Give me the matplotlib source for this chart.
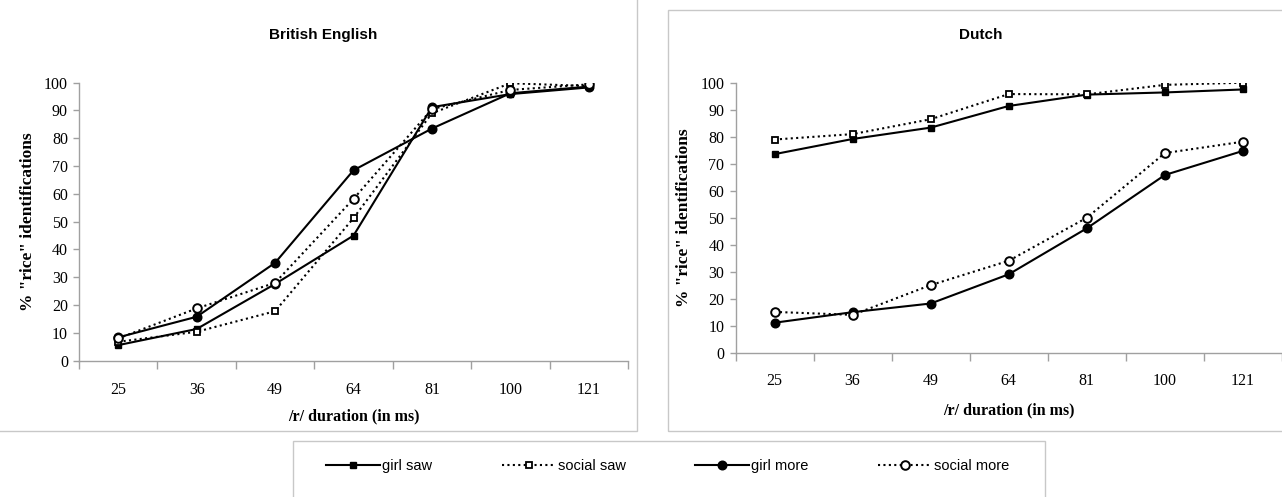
import matplotlib
matplotlib.use("Agg")
import matplotlib.pyplot as plt
from matplotlib.patches import Rectangle
from matplotlib.lines import Line2D

# /r/ durations (ms) on the category axis
duracoes = ["25", "36", "49", "64", "81", "100", "121"]

# British English, % "rice" identifications
be_girl_saw = [5.6, 11.4, 27.6, 45.0, 91.2, 95.9, 98.3]
be_social_saw = [6.8, 10.4, 17.8, 51.3, 89.0, 99.8, 98.8]
be_girl_more = [8.4, 15.8, 35.2, 68.5, 83.5, 96.2, 98.6]
be_social_more = [8.0, 18.8, 28.0, 58.2, 90.5, 97.4, 99.4]

# Dutch, % "rice" identifications
nl_girl_saw = [73.6, 79.2, 83.4, 91.4, 95.6, 96.4, 97.5]
nl_social_saw = [79.0, 81.0, 86.5, 95.8, 95.7, 99.2, 100.0]
nl_girl_more = [11.3, 15.2, 18.4, 29.2, 46.2, 65.9, 74.8]
nl_social_more = [15.3, 14.2, 25.2, 34.2, 50.1, 74.0, 78.2]

SERIF = "Liberation Serif"
SANS = "Liberation Sans"
CINZA = "#a0a0a0"

W, H = 1282, 497
fig = plt.figure(figsize=(W / 100, H / 100), dpi=100)


def px(x0, y0, x1, y1):
    # pixel box (top-left origin) -> figure fraction [l, b, w, h]
    return [x0 / W, 1 - y1 / H, (x1 - x0) / W, (y1 - y0) / H]


PONTILHADO = (0, (1, 1.6))


def estilos():
    return {
        "girl saw": dict(color="black", lw=1.5, ls="-", marker="s", ms=4.8,
                         mfc="black", mec="black"),
        "social saw": dict(color="black", lw=1.5, ls=PONTILHADO, marker="s", ms=4.8,
                           mfc="white", mec="black", mew=1.3),
        "girl more": dict(color="black", lw=1.5, ls="-", marker="o", ms=6.2,
                          mfc="black", mec="black"),
        "social more": dict(color="black", lw=1.5, ls=PONTILHADO, marker="o", ms=6.2,
                            mfc="white", mec="black", mew=1.4),
    }


def painel(ax, series, xt, xl):
    x = list(range(len(duracoes)))
    st = estilos()
    for nome, vals, circ in series:
        kw = dict(st[nome])
        if circ:
            # a few points of this series carry round markers in the source
            resto = [i for i in x if i not in circ]
            ax.plot(x, vals, markevery=resto, zorder=3, **kw)
            ax.plot(x, vals, ls="none", marker="o", ms=st["girl more"]["ms"],
                    mfc="black", mec="black", markevery=circ, zorder=3)
        else:
            ax.plot(x, vals, zorder=3, **kw)

    ax.set_xlim(-0.5, len(duracoes) - 0.5)
    ax.set_ylim(0, 100)
    ax.set_yticks(range(0, 101, 10))
    ax.set_xticks([i - 0.5 for i in range(len(duracoes) + 1)])
    ax.set_xticklabels([])
    ax.set_xticks(x, minor=True)
    ax.set_xticklabels(duracoes, minor=True)
    ax.tick_params(axis="x", which="major", direction="out", length=6,
                   color=CINZA, width=1)
    ax.tick_params(axis="x", which="minor", length=0, pad=xt,
                   labelsize=11.5)
    ax.tick_params(axis="y", direction="out", length=4, color=CINZA, width=1,
                   labelsize=11.5, pad=4)
    for lab in ax.get_xticklabels(minor=True) + ax.get_yticklabels():
        lab.set_fontfamily(SERIF)
    for s in ["top", "right"]:
        ax.spines[s].set_visible(False)
    for s in ["left", "bottom"]:
        ax.spines[s].set_color(CINZA)
        ax.spines[s].set_linewidth(1)

    ax.set_xlabel("/r/ duration (in ms)", fontfamily=SERIF, fontweight="bold",
                  fontsize=11.5, labelpad=xl)
    ax.set_ylabel('% "rice" identifications', fontfamily=SERIF, fontweight="bold",
                  fontsize=12.5, labelpad=6)


# left panel
ax1 = fig.add_axes(px(79, 82.7, 628, 360.7))
painel(ax1, [
    ("girl saw", be_girl_saw, [2, 4]),
    ("social saw", be_social_saw, None),
    ("girl more", be_girl_more, None),
    ("social more", be_social_more, None),
], xt=15, xl=8)

# right panel
ax2 = fig.add_axes(px(735.5, 82.7, 1282, 353.3))
painel(ax2, [
    ("girl saw", nl_girl_saw, None),
    ("social saw", nl_social_saw, None),
    ("girl more", nl_girl_more, None),
    ("social more", nl_social_more, None),
], xt=14, xl=10)

# chart titles (centred on the chart boxes)
fig.text(323 / W, 1 - 35 / H, "British English", ha="center", va="center",
         fontfamily=SANS, fontweight="bold", fontsize=11)
fig.text(981 / W, 1 - 35 / H, "Dutch", ha="center", va="center",
         fontfamily=SANS, fontweight="bold", fontsize=11)

# chart frames, partly outside the picture
for (x0, y0, x1, y1) in [(-10, -10, 637, 431), (667.7, 10, 1300, 431),
                         (293, 441, 1045, 520)]:
    l, b, w, h = px(x0, y0, x1, y1)
    fig.add_artist(Rectangle((l, b), w, h, transform=fig.transFigure,
                             fill=False, ec="#c8c8c8", lw=1, clip_on=False))

# legend
st = estilos()
nomes = ["girl saw", "social saw", "girl more", "social more"]
handles = [Line2D([], [], **st[n]) for n in nomes]
fig.legend(handles, nomes,
           loc="center left", bbox_to_anchor=(326 / W, 1 - 466 / H),
           ncol=4, frameon=False, handlelength=3.7, handletextpad=0.15,
           columnspacing=4.75, borderaxespad=0, borderpad=0,
           prop={"family": SANS, "size": 10.5})

fig.savefig("out.png", dpi=100)
